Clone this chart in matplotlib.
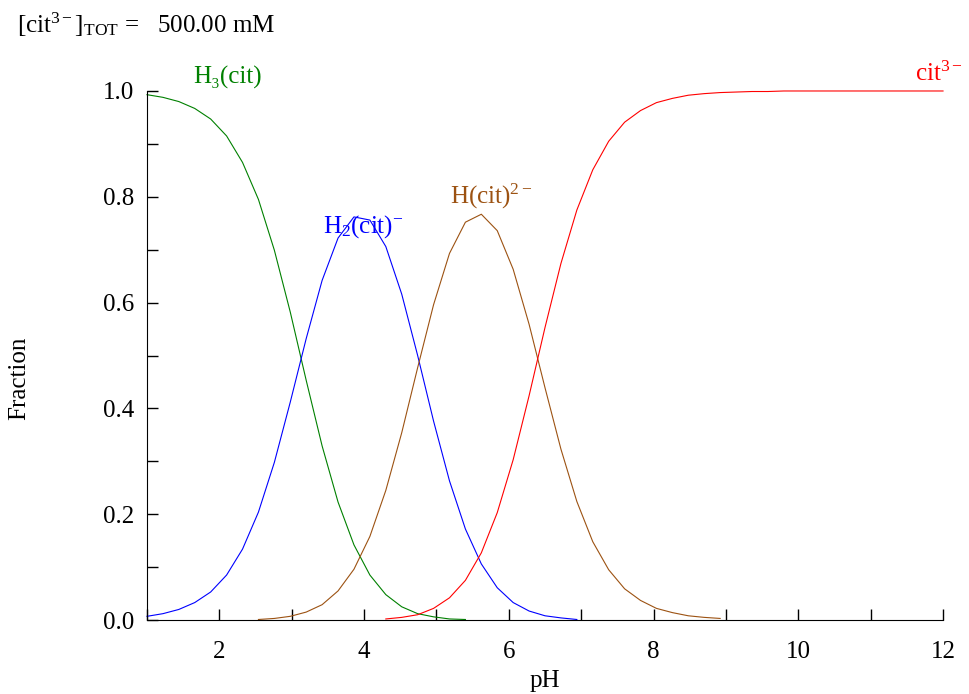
import numpy as np
import matplotlib
matplotlib.use('Agg')
import matplotlib.pyplot as plt
from matplotlib.ticker import MultipleLocator

nan = np.nan

# pH сетка (шаг 0.22)
ph = [1.00, 1.22, 1.44, 1.66, 1.88, 2.10, 2.32, 2.54, 2.76, 2.98,
      3.20, 3.42, 3.64, 3.86, 4.08, 4.30, 4.52, 4.74, 4.96, 5.18,
      5.40, 5.62, 5.84, 6.06, 6.28, 6.50, 6.72, 6.94, 7.16, 7.38,
      7.60, 7.82, 8.04, 8.26, 8.48, 8.70, 8.92, 9.14, 9.36, 9.58,
      9.80, 10.02, 10.24, 10.46, 10.68, 10.90, 11.12, 11.34, 11.56, 11.78,
      12.00]

h3cit = [0.993, 0.988, 0.980, 0.967, 0.947, 0.915, 0.865, 0.795, 0.699, 0.582,
         0.453, 0.329, 0.223, 0.142, 0.085, 0.048, 0.025, 0.012, 0.006, 0.002,
         0.001] + [nan] * 30

h2cit = [0.007, 0.012, 0.020, 0.033, 0.053, 0.085, 0.134, 0.204, 0.298, 0.412,
         0.532, 0.642, 0.722, 0.762, 0.756, 0.706, 0.616, 0.500, 0.376, 0.263,
         0.172, 0.106, 0.061, 0.033, 0.017, 0.008, 0.004, 0.001] + [nan] * 23

hcit = [nan] * 7 + [0.001, 0.003, 0.007,
         0.015, 0.029, 0.055, 0.096, 0.158, 0.245, 0.354, 0.477, 0.596, 0.693,
         0.752, 0.767, 0.736, 0.663, 0.559, 0.439, 0.323, 0.224, 0.148, 0.095,
         0.059, 0.037, 0.022, 0.014, 0.008, 0.005, 0.003] + [nan] * 14

cit = [nan] * 15 + [0.002, 0.005, 0.010, 0.022, 0.042,
       0.075, 0.127, 0.203, 0.303, 0.424, 0.553, 0.674, 0.775, 0.851, 0.905,
       0.941, 0.963, 0.978, 0.986, 0.992, 0.995, 0.997, 0.998, 0.999, 0.999,
       1.000, 1.000, 1.000, 1.000, 1.000, 1.000, 1.000, 1.000, 1.000, 1.000,
       1.000]

series = [
    (h3cit, '#008000', 'H₃(cit)', 1.64, 1.026),
    (h2cit, '#0000ff', 'H$_2$(cit)$^{-}$', 3.43, 0.743),
    (hcit, '#9c5212', 'H(cit)$^{2-}$', 5.19, 0.800),
    (cit, '#ff0000', 'cit$^{3-}$', 11.61, 1.032),
]

plt.rcParams['font.family'] = ['Liberation Serif', 'DejaVu Serif']
plt.rcParams['mathtext.fontset'] = 'custom'
plt.rcParams['mathtext.rm'] = 'Liberation Serif'
plt.rcParams['mathtext.it'] = 'Liberation Serif:italic'
plt.rcParams['font.size'] = 18

fig = plt.figure(figsize=(9.69, 6.94), dpi=100)
ax = fig.add_axes([0.1517, 0.1066, 0.8215, 0.7623])

for values, color, label, lx, ly in series:
    ax.plot(ph, np.array(values, dtype=float), color=color, lw=0.8, clip_on=False)
    ax.text(lx, ly, label, color=color, fontsize=18, va='center', ha='left')

ax.set_xlim(1, 12)
ax.set_ylim(0, 1)
ax.xaxis.set_major_locator(MultipleLocator(2))
ax.xaxis.set_minor_locator(MultipleLocator(1))
ax.yaxis.set_major_locator(MultipleLocator(0.2))
ax.yaxis.set_minor_locator(MultipleLocator(0.1))
ax.yaxis.set_major_formatter(plt.FormatStrFormatter('%.1f'))
ax.tick_params(which='both', direction='in', length=8, width=1, labelsize=18)
ax.tick_params(axis='x', which='both', pad=15)
ax.tick_params(axis='y', which='both', pad=9)

ax.spines['top'].set_visible(False)
ax.spines['right'].set_visible(False)

ax.set_xlabel('pH', fontsize=18)
ax.xaxis.set_label_coords(0.5, -0.095)
ax.set_ylabel('Fraction', fontsize=18)
ax.yaxis.set_label_coords(-0.147, 0.456)

fig.text(0.018, 0.952, r'[cit$^{3-}$]$_{\mathrm{TOT}}$ =   500.00 mM',
         fontsize=18, va='baseline', ha='left')

plt.savefig('out.png', dpi=100)
